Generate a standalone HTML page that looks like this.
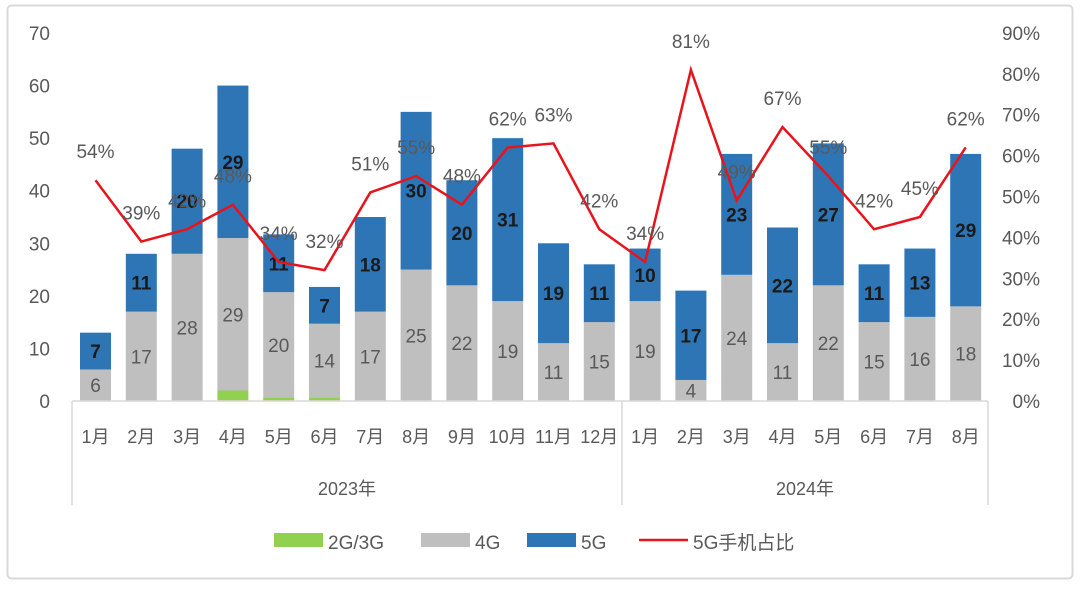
<!DOCTYPE html>
<html><head><meta charset="utf-8"><style>
body{margin:0;background:#fff;width:1080px;height:586px;overflow:hidden}
svg{font-family:"Liberation Sans","Noto Sans CJK SC",sans-serif}
</style></head><body>
<svg id="s" width="1080" height="586" xmlns="http://www.w3.org/2000/svg"></svg>
<script>
const s=document.getElementById('s');let h='';
h+='<rect x="7.5" y="5.5" width="1065" height="573" rx="4" fill="#fff" stroke="#d9d9d9" stroke-width="2"/>';
const y0=401,pu=5.257,pp=4.089;
for(let i=0;i<=7;i++){h+=`<text x="50" y="${y0-i*10*pu+7}" font-size="19" fill="#595959" text-anchor="end">${i*10}</text>`;}
for(let i=0;i<=9;i++){h+=`<text x="1040" y="${y0-i*40.9+7}" font-size="19" fill="#595959" text-anchor="end">${i*10}%</text>`;}
const g2=[0,0,0,2,0.7,0.7,0,0,0,0,0,0,0,0,0,0,0,0,0,0];
const g4=[6,17,28,29,20,14,17,25,22,19,11,15,19,4,24,11,22,15,16,18];
const g5=[7,11,20,29,11,7,18,30,20,31,19,11,10,17,23,22,27,11,13,29];
const pc=[54,39,42,48,34,32,51,55,48,62,63,42,34,81,49,67,55,42,45,62];
const mo=['1月','2月','3月','4月','5月','6月','7月','8月','9月','10月','11月','12月','1月','2月','3月','4月','5月','6月','7月','8月'];
const cx=i=>95.5+i*45.8;
let pts=[],lab='';
for(let i=0;i<20;i++){const x=cx(i)-15.5;let b=y0;
 if(g2[i]){h+=`<rect x="${x}" y="${b-g2[i]*pu}" width="31" height="${g2[i]*pu}" fill="#92d050"/>`;b-=g2[i]*pu;}
 h+=`<rect x="${x}" y="${b-g4[i]*pu}" width="31" height="${g4[i]*pu}" fill="#bfbfbf"/>`;
 h+=`<text x="${cx(i)}" y="${b-g4[i]*pu/2+7}" font-size="19" fill="#595959" text-anchor="middle">${g4[i]}</text>`;b-=g4[i]*pu;
 h+=`<rect x="${x}" y="${b-g5[i]*pu}" width="31" height="${g5[i]*pu}" fill="#2e75b6"/>`;
 h+=`<text x="${cx(i)}" y="${b-g5[i]*pu/2+7}" font-size="19" font-weight="bold" fill="#1a1a1a" text-anchor="middle">${g5[i]}</text>`;
 pts.push(cx(i)+','+(y0-pc[i]*pp));
 lab+=`<text x="${cx(i)}" y="${y0-pc[i]*pp-22}" font-size="19" fill="#595959" text-anchor="middle">${pc[i]}%</text>`;
 h+=`<text x="${cx(i)}" y="443" font-size="18" fill="#595959" text-anchor="middle">${mo[i]}</text>`;
}
h+=`<polyline points="${pts.join(' ')}" fill="none" stroke="#e8141c" stroke-width="2.5"/>`+lab;
h+='<path d="M72 401H988M72 401V505M622 401V505M988 401V505" stroke="#d9d9d9" stroke-width="1.5" fill="none"/>';
h+='<text x="347" y="495" font-size="18" fill="#595959" text-anchor="middle">2023年</text>';
h+='<text x="805" y="495" font-size="18" fill="#595959" text-anchor="middle">2024年</text>';
h+='<rect x="274" y="533" width="49" height="14" fill="#92d050"/><text x="328" y="549" font-size="19" fill="#595959">2G/3G</text>';
h+='<rect x="421" y="533" width="49" height="14" fill="#bfbfbf"/><text x="475" y="549" font-size="19" fill="#595959">4G</text>';
h+='<rect x="527" y="533" width="49" height="14" fill="#2e75b6"/><text x="581" y="549" font-size="19" fill="#595959">5G</text>';
h+='<line x1="639" y1="540" x2="688" y2="540" stroke="#e8141c" stroke-width="2.5"/><text x="693" y="549" font-size="19" fill="#595959">5G手机占比</text>';
s.innerHTML=h;
</script>
</body></html>
